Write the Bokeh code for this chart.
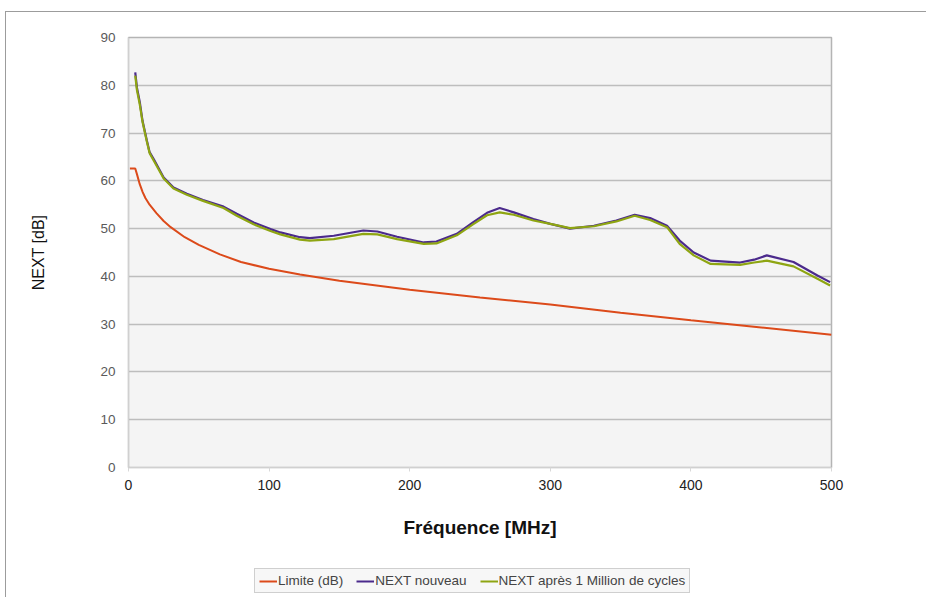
from bokeh.plotting import figure
from bokeh.models import Legend, LegendItem, Range1d, FixedTicker
from bokeh.layouts import column
from bokeh.embed import file_html
from bokeh.resources import INLINE

# ---- data ----
freq_limit = [1, 4.8, 6, 8, 10, 12, 15, 20, 25, 30, 40, 50, 65, 80, 100, 122, 150, 200, 250, 300, 350, 400, 450, 500]
limite_db = [62.6, 62.6, 61.4, 59.3, 57.7, 56.4, 55.0, 53.2, 51.6, 50.3, 48.2, 46.6, 44.6, 43.0, 41.6, 40.4, 39.1,
             37.2, 35.6, 34.1, 32.4, 30.8, 29.3, 27.8]

freq_meas = [4.8, 6, 8, 10, 13, 15, 18, 25, 32, 41.5, 53, 67.6, 77, 89, 101, 108, 122, 129, 146, 167, 177, 191,
             210, 219, 233.5, 245, 255, 264, 274, 288, 300, 314, 331, 347, 360, 371, 383, 392, 402, 414, 435,
             445, 454, 473, 490, 499]
next_nouveau = [82.7, 79.5, 76.5, 72.5, 68.5, 66.0, 64.5, 60.7, 58.6, 57.3, 56.0, 54.6, 53.1, 51.3, 49.9, 49.2,
                48.2, 48.0, 48.5, 49.6, 49.4, 48.3, 47.1, 47.3, 48.9, 51.3, 53.3, 54.3, 53.4, 52.0, 51.0, 50.0,
                50.6, 51.7, 52.9, 52.2, 50.6, 47.5, 45.0, 43.3, 42.9, 43.5, 44.4, 43.0, 40.2, 38.8]
next_apres = [82.0, 79.0, 76.0, 72.3, 68.3, 65.8, 64.2, 60.5, 58.4, 57.1, 55.8, 54.3, 52.7, 50.9, 49.5, 48.8,
              47.7, 47.5, 47.8, 48.9, 48.8, 47.8, 46.8, 46.9, 48.6, 50.9, 52.8, 53.4, 52.9, 51.7, 51.0, 50.1,
              50.5, 51.5, 52.7, 51.8, 50.3, 46.8, 44.4, 42.6, 42.4, 42.9, 43.3, 42.1, 39.5, 38.1]

series_labels = ["Limite (dB)", "NEXT nouveau", "NEXT après 1 Million de cycles"]
series_colors = ["#dc4a1a", "#4b2a8c", "#8ea512"]
x_ticks = [0, 100, 200, 300, 400, 500]
y_ticks = [0, 10, 20, 30, 40, 50, 60, 70, 80, 90]

FONT = "Liberation Sans"

p = figure(output_backend="svg", toolbar_location=None,
           frame_width=703, frame_height=430,
           min_border_left=122, min_border_right=95, min_border_top=25, min_border_bottom=90,
           x_range=Range1d(0, 500), y_range=Range1d(0, 90))

p.background_fill_color = "#f4f4f4"
p.border_fill_color = "white"
p.outline_line_color = "#b4b4b4"
p.outline_line_width = 1.5

p.xgrid.grid_line_color = None
p.ygrid.grid_line_color = "#bdbdbd"
p.ygrid.grid_line_width = 1.5

p.xaxis.ticker = FixedTicker(ticks=x_ticks)
p.yaxis.ticker = FixedTicker(ticks=y_ticks)
p.xaxis.minor_tick_line_color = None
p.yaxis.minor_tick_line_color = None
p.xaxis.axis_line_color = "#d0d0d0"
p.yaxis.axis_line_color = "#d0d0d0"
p.xaxis.major_tick_line_color = "#d8d8d8"
p.yaxis.major_tick_line_color = None
p.xaxis.major_tick_in = 0
p.xaxis.major_tick_out = 4
p.yaxis.major_tick_in = 0
p.yaxis.major_tick_out = 0

p.xaxis.major_label_text_font = FONT
p.xaxis.major_label_text_font_size = "14px"
p.xaxis.major_label_text_color = "#222222"
p.xaxis.major_label_standoff = 8
p.yaxis.major_label_text_font = FONT
p.yaxis.major_label_text_font_size = "13.5px"
p.yaxis.major_label_text_color = "#5a5a5a"
p.yaxis.major_label_standoff = 13

p.xaxis.axis_label = "Fréquence [MHz]"
p.xaxis.axis_label_text_font = FONT
p.xaxis.axis_label_text_font_size = "19px"
p.xaxis.axis_label_text_font_style = "bold"
p.xaxis.axis_label_text_color = "#111111"
p.xaxis.axis_label_standoff = 24

p.yaxis.axis_label = "NEXT [dB]"
p.yaxis.axis_label_text_font = FONT
p.yaxis.axis_label_text_font_size = "16px"
p.yaxis.axis_label_text_font_style = "normal"
p.yaxis.axis_label_text_color = "#111111"
p.yaxis.axis_label_standoff = 50

p.line(freq_limit, limite_db, line_color=series_colors[0], line_width=2)
p.line(freq_meas, next_nouveau, line_color=series_colors[1], line_width=2.2)
p.line(freq_meas, next_apres, line_color=series_colors[2], line_width=2.2)

# ---- legend strip below the chart (same series, outside its visible ranges) ----
pl = figure(output_backend="svg", toolbar_location=None, width=920, height=40,
            min_border=0, x_range=Range1d(0, 1), y_range=Range1d(0, 1))
pl.axis.visible = False
pl.grid.visible = False
pl.outline_line_color = None
pl.background_fill_color = "white"
pl.border_fill_color = "white"
leg_renderers = [
    pl.line(freq_limit, limite_db, line_color=series_colors[0], line_width=2),
    pl.line(freq_meas, next_nouveau, line_color=series_colors[1], line_width=2),
    pl.line(freq_meas, next_apres, line_color=series_colors[2], line_width=2),
]

legend = Legend(items=[LegendItem(label=lab, renderers=[r]) for lab, r in zip(series_labels, leg_renderers)],
                orientation="horizontal", location=(126, 4))
legend.label_text_font = FONT
legend.label_text_font_size = "13.5px"
legend.label_text_color = "#444444"
legend.glyph_width = 18
legend.glyph_height = 14
legend.label_standoff = 1
legend.spacing = 13
legend.padding = 4
legend.margin = 0
legend.label_height = 14
legend.border_line_color = "#a8a8a8"
legend.border_line_width = 1
legend.background_fill_color = "#f7f7f7"
legend.background_fill_alpha = 1.0
pl.add_layout(legend, "center")

layout = column(p, pl, spacing=0)
layout.styles = {"margin-left": "5px", "margin-top": "11px",
                 "border-left": "1px solid #9c9c9c", "border-top": "1px solid #9c9c9c"}

open("out.html", "w").write(file_html(layout, INLINE))
